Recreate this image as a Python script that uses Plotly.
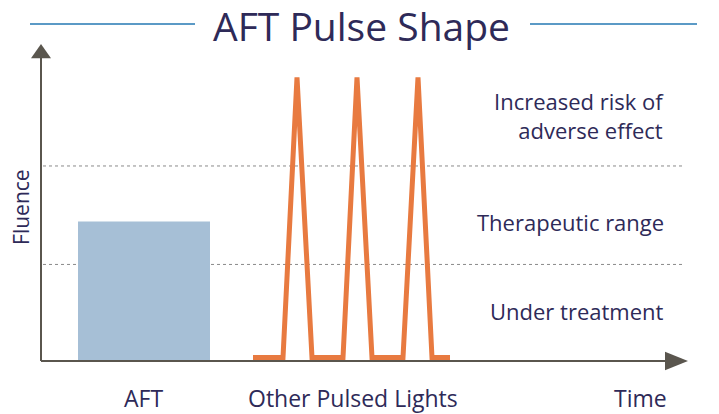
import plotly.graph_objects as go

# ---- data (time units, fluence units) ----
aft_time = [10.3]          # centre of AFT pulse
aft_duration = [13.2]      # pulse width
aft_fluence = [1.43]

pulse_time = [21.2, 24.2, 25.6, 27.1, 30.2, 31.6, 33.1, 36.2, 37.7, 39.1, 40.9]
pulse_fluence = [0.035, 0.035, 2.91, 0.035, 0.035, 2.91, 0.035, 0.035, 2.91, 0.035, 0.035]

thresholds = [0.99, 2.0]
zone_labels = ["Under treatment", "Therapeutic range", "Increased risk of<br>adverse effect"]
zone_label_y = [0.51, 1.43, 2.52]

x_labels = ["AFT", "Other Pulsed Lights", "Time"]
x_label_pos = [10.2, 31.2, 59.9]

TXT = "#2e2a58"
AX = "#5a564e"
FONT = "Open Sans"

fig = go.Figure()
fig.add_trace(go.Bar(x=aft_time, y=aft_fluence, width=aft_duration,
                     marker=dict(color="#a6bfd6", line=dict(width=0)),
                     hoverinfo="skip"))
fig.add_trace(go.Scatter(x=pulse_time, y=pulse_fluence, mode="lines",
                         line=dict(color="#e87a40", width=5),
                         hoverinfo="skip"))

shapes = []
for t in thresholds:
    shapes.append(dict(type="line", xref="x", yref="y", x0=0.2, x1=64.3, y0=t, y1=t,
                       line=dict(color="#8a8a8a", width=1, dash="dot"), layer="below"))
# axes
shapes.append(dict(type="line", xref="x", yref="y", x0=0, x1=62.6, y0=0, y1=0,
                   line=dict(color=AX, width=2)))
shapes.append(dict(type="line", xref="x", yref="y", x0=0, x1=0, y0=0, y1=3.12,
                   line=dict(color=AX, width=2)))
# arrow heads
shapes.append(dict(type="path", xref="x", yref="y",
                   path="M 62.4,0.095 L 64.7,0 L 62.4,-0.095 Z",
                   fillcolor=AX, line=dict(width=0)))
shapes.append(dict(type="path", xref="x", yref="y",
                   path="M -1.0,3.105 L 0,3.25 L 1.0,3.105 Z",
                   fillcolor=AX, line=dict(width=0)))
# title side lines
shapes.append(dict(type="line", xref="x", yref="y", x0=-1.1, x1=15.4,
                   y0=3.456, y1=3.456, line=dict(color="#5b9ac6", width=2)))
shapes.append(dict(type="line", xref="x", yref="y", x0=48.9, x1=65.6,
                   y0=3.456, y1=3.456, line=dict(color="#5b9ac6", width=2)))

annotations = []
for lab, y in zip(zone_labels, zone_label_y):
    annotations.append(dict(x=62.5, y=y, xref="x", yref="y", text=lab, showarrow=False,
                            xanchor="right", yanchor="middle", align="right",
                            font=dict(family=FONT, size=22, color=TXT)))
for lab, x in zip(x_labels, x_label_pos):
    annotations.append(dict(x=x, y=-0.38, xref="x", yref="y", text=lab, showarrow=False,
                            xanchor="center", yanchor="middle",
                            font=dict(family=FONT, size=23, color=TXT)))
annotations.append(dict(x=-2.0, y=1.58, xref="x", yref="y", text="Fluence", showarrow=False,
                        textangle=-90, xanchor="center", yanchor="middle",
                        font=dict(family=FONT, size=21, color=TXT)))
annotations.append(dict(x=32.0, y=3.44, xref="x", yref="y", text="AFT Pulse Shape",
                        showarrow=False, xanchor="center", yanchor="middle",
                        font=dict(family=FONT, size=39, color=TXT)))

fig.update_layout(
    width=719, height=414,
    margin=dict(l=4, r=4, t=10, b=4),
    plot_bgcolor="white", paper_bgcolor="white",
    showlegend=False,
    xaxis=dict(range=[-3.7, 67.4], visible=False, fixedrange=True),
    yaxis=dict(range=[-0.503, 3.6], visible=False, fixedrange=True),
    shapes=shapes, annotations=annotations,
)
fig.update_traces(cliponaxis=False, selector=dict(type="scatter"))
fig.write_html("out.html", post_script="document.body.style.margin='0';",
               config={"displayModeBar": False})
